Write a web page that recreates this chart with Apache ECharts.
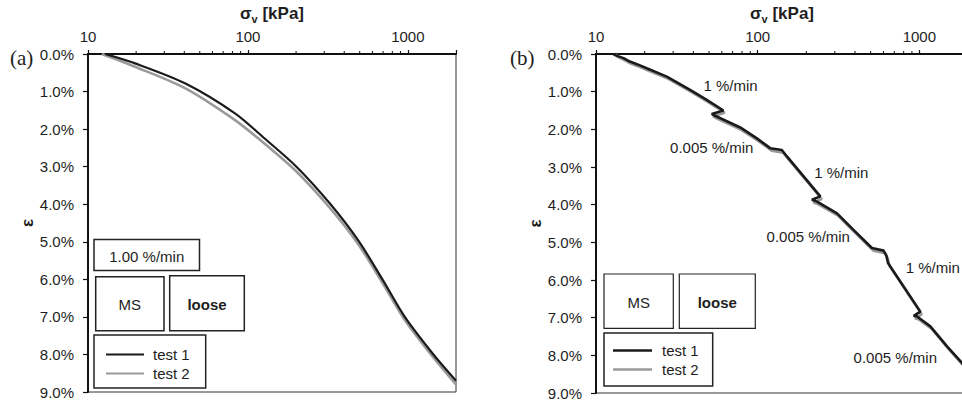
<!DOCTYPE html>
<html><head><meta charset="utf-8">
<script src="https://cdn.jsdelivr.net/npm/echarts@6/dist/echarts.min.js"></script>
<style>html,body{margin:0;padding:0;background:#fff}#c{width:962px;height:404px}</style>
</head><body><div id="c"></div>
<script>
// ---------- data ----------
const xMajorTicks = [10, 100, 1000];
const xMinorTicks = [20, 30, 40, 50, 60, 70, 80, 90, 200, 300, 400, 500, 600, 700, 800, 900];
const yTicks = [0, 1, 2, 3, 4, 5, 6, 7, 8, 9];

// panel (a) – constant rate 1.00 %/min
const aTest1Stress = [12.8, 19.7, 40.4, 83, 124, 201, 325.5, 487, 698, 957, 1432, 2000];
const aTest1Strain = [0, 0.25, 0.78, 1.58, 2.21, 3.0, 3.98, 4.95, 6.02, 7.0, 7.98, 8.70];
const aTest2Stress = [12.2, 19.7, 40.4, 83, 124, 201, 325.5, 487, 698, 957, 1432, 2000];
const aTest2Strain = [0, 0.34, 0.91, 1.76, 2.35, 3.13, 4.10, 5.05, 6.11, 7.08, 8.06, 8.80];

// panel (b) – alternating rates
const bTest1Stress = [12.8, 13.1, 14.8, 16.2, 17.9, 20.6, 27.4, 38.2, 48.4, 61.4, 52, 54.5, 78, 98.9, 119.5, 141, 151.7, 244, 216.6, 233, 309.6, 391.5, 509, 601, 625, 640, 1014, 923, 968, 1170, 1484, 1836, 2000];
const bTest1Strain = [0, 0.03, 0.11, 0.20, 0.27, 0.38, 0.60, 0.95, 1.22, 1.50, 1.59, 1.64, 1.95, 2.24, 2.50, 2.55, 2.72, 3.78, 3.87, 3.92, 4.23, 4.67, 5.15, 5.22, 5.35, 5.55, 6.84, 6.95, 6.97, 7.23, 7.76, 8.20, 8.42];
const bTest2Stress = [13.3, 13.5, 15.1, 16.5, 18.3, 21.0, 28.0, 39.0, 49.4, 62.6, 53.0, 55.6, 79.6, 100.9, 121.9, 143.8, 154.7, 248.9, 220.9, 237.7, 315.8, 399.3, 519.2, 613.0, 637.5, 652.8, 1034, 941, 987, 1193, 1514, 1873, 2000];
const bTest2Strain = [0, 0.07, 0.17, 0.26, 0.33, 0.44, 0.66, 1.01, 1.28, 1.56, 1.65, 1.71, 2.02, 2.31, 2.57, 2.62, 2.79, 3.85, 3.94, 3.99, 4.30, 4.74, 5.22, 5.29, 5.42, 5.62, 6.91, 7.02, 7.04, 7.30, 7.83, 8.27, 8.48];

const bRateLabels = ['1 %/min', '0.005 %/min', '1 %/min', '0.005 %/min', '1 %/min', '0.005 %/min'];
const bRateStress = [68, 52, 329, 205.6, 1212, 710];
const bRateStrain = [0.84, 2.48, 3.14, 4.85, 5.66, 8.06];

const seriesNames = ['test 1', 'test 2'];
// ---------- chart ----------
const FONT = '"Liberation Sans", Arial, sans-serif';
const BLACK = '#1a1a1a', GRAY = '#9a9a9a', TXT = '#1e1e1e';
const zip = (xs, ys) => xs.map((x, i) => [x, ys[i]]);

function xAxisFor(gi) {
  return {
    type: 'log', logBase: 10, min: 10, max: 2000, gridIndex: gi, position: 'top',
    name: '{a|σ}{b|v}{a| [kPa]}', nameLocation: 'middle', nameGap: 28,
    nameTextStyle: { color: TXT, fontFamily: FONT, fontWeight: 'bold', fontSize: 17,
      rich: { a: { fontSize: 17, fontWeight: 'bold', fontFamily: FONT, color: TXT, lineHeight: 22, verticalAlign: 'middle' },
              b: { fontSize: 11, fontWeight: 'bold', fontFamily: FONT, color: TXT, lineHeight: 22, verticalAlign: 'bottom' } } },
    axisLine: { show: true, lineStyle: { color: '#111', width: 2 } },
    axisTick: { show: true, length: 4, lineStyle: { color: '#111', width: 1.2 } },
    axisLabel: { margin: 10, color: TXT, fontFamily: FONT, fontSize: 15,
      formatter: v => xMajorTicks.some(t => Math.abs(t - v) < 1e-6 * t) ? String(Math.round(v)) : '' },
    splitLine: { show: false }
  };
}
function yAxisFor(gi) {
  return {
    type: 'value', inverse: true, min: yTicks[0], max: yTicks[yTicks.length - 1], interval: 1, gridIndex: gi,
    name: 'ε', nameLocation: 'middle', nameGap: 46, nameRotate: 90,
    nameTextStyle: { color: TXT, fontFamily: FONT, fontWeight: 'bold', fontSize: 17 },
    axisLine: { show: true, lineStyle: { color: '#111', width: 2 } },
    axisTick: { show: true, length: 5, lineStyle: { color: '#111', width: 1.2 } },
    axisLabel: { margin: 14, color: TXT, fontFamily: FONT, fontSize: 15, formatter: v => v.toFixed(1) + '%' },
    splitLine: { show: false }
  };
}
function minorTickSeries(gi) {
  return {
    type: 'custom', xAxisIndex: gi, yAxisIndex: gi, silent: true, clip: false, z: 5,
    data: xMinorTicks.map(v => [v, 0]), encode: { x: 0, y: 1 },
    renderItem: (params, api) => {
      const p = api.coord([api.value(0), api.value(1)]);
      return { type: 'line', shape: { x1: p[0], y1: p[1], x2: p[0], y2: p[1] - 3 }, style: { stroke: '#111', lineWidth: 1 } };
    }
  };
}
function lineSeries(name, gi, data, color, width, smooth) {
  return { name, type: 'line', xAxisIndex: gi, yAxisIndex: gi, data, color, showSymbol: false, symbol: 'none',
    smooth, lineStyle: { color, width }, itemStyle: { color }, z: name === 'test 1' ? 3 : 2, animation: false };
}
function legendFor(left, top, pad, iw, ih, tp) {
  return {
    data: seriesNames.map(n => ({ name: n })), orient: 'vertical', left, top, icon: 'rect',
    itemWidth: iw, itemHeight: ih, itemGap: 4, padding: pad, borderColor: '#222', borderWidth: 1.5,
    backgroundColor: '#fff', selectedMode: false,
    textStyle: { fontSize: 15, lineHeight: 15, color: TXT, fontFamily: FONT, padding: [0, 0, 0, tp] }
  };
}
function box(x, y, w, h, lw) {
  return { type: 'rect', shape: { x, y, width: w, height: h }, style: { fill: '#fff', stroke: '#222', lineWidth: lw }, z: 10 };
}
function txt(x, y, text, opt) {
  opt = opt || {};
  return { type: 'text', x, y, z: 11,
    style: { text, fill: TXT, font: opt.font || ('15px ' + FONT), align: opt.align || 'center', verticalAlign: 'middle',
             textAlign: opt.align || 'center', textVerticalAlign: 'middle' } };
}

const chart = echarts.init(document.getElementById('c'), null, { renderer: 'svg', width: 962, height: 404 });
chart.setOption({
  animation: false,
  backgroundColor: '#fff',
  grid: [
    { left: 88, top: 54, width: 368, height: 338, show: true, borderColor: '#333', borderWidth: 1, backgroundColor: 'transparent', containLabel: false, outerBoundsMode: 'none' },
    { left: 596, top: 54, width: 372, height: 339, show: true, borderColor: '#333', borderWidth: 1, backgroundColor: 'transparent', containLabel: false, outerBoundsMode: 'none' }
  ],
  xAxis: [xAxisFor(0), xAxisFor(1)],
  yAxis: [yAxisFor(0), yAxisFor(1)],
  legend: [
    legendFor(94, 335, [12, 16, 7, 12], 38, 2, 4),
    legendFor(604, 333, [10, 14, 9, 9], 39, 2.5, 5)
  ],
  series: [
    lineSeries('test 2', 0, zip(aTest2Stress, aTest2Strain), GRAY, 2.6, 0.3),
    lineSeries('test 1', 0, zip(aTest1Stress, aTest1Strain), BLACK, 2.2, 0.3),
    lineSeries('test 2', 1, zip(bTest2Stress, bTest2Strain), GRAY, 2.6, false),
    lineSeries('test 1', 1, zip(bTest1Stress, bTest1Strain), BLACK, 2.6, false),
    minorTickSeries(0),
    minorTickSeries(1),
    {
      type: 'scatter', xAxisIndex: 1, yAxisIndex: 1, symbolSize: 0.1, itemStyle: { color: 'transparent' }, silent: true, z: 6,
      data: bRateLabels.map((t, i) => ({ name: t, value: [bRateStress[i], bRateStrain[i]] })),
      label: { show: true, position: 'inside', formatter: '{b}', color: TXT, fontSize: 15, fontFamily: FONT, textBorderWidth: 0, opacity: 1 }
    }
  ],
  graphic: [
    txt(10, 58, '(a)', { font: '21px "Liberation Serif", "Times New Roman", serif', align: 'left' }),
    txt(510, 58, '(b)', { font: '21px "Liberation Serif", "Times New Roman", serif', align: 'left' }),
    box(94, 239.5, 105.5, 31, 1.5), txt(146.7, 256, '1.00 %/min'),
    box(95.7, 276.7, 68.3, 54, 1.5), txt(129.8, 304, 'MS'),
    box(169.7, 275.7, 74.6, 55, 1.5), txt(207, 304, 'loose', { font: 'bold 15px ' + FONT }),
    box(604, 274, 69.3, 54.3, 1.2), txt(638.7, 302, 'MS'),
    box(679.3, 274, 76, 54.3, 1.2), txt(717.3, 302, 'loose', { font: 'bold 15px ' + FONT })
  ]
});
</script>
</body></html>
